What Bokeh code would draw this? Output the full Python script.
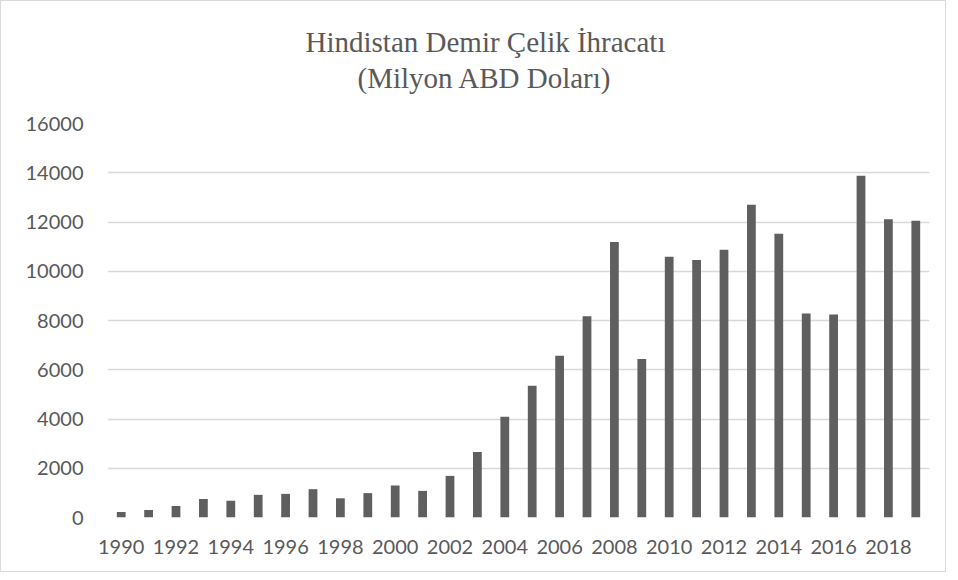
from bokeh.plotting import figure
from bokeh.models import Title, FixedTicker, Range1d
from bokeh.embed import file_html
from bokeh.resources import INLINE

years = list(range(1990, 2020))
exports = [220, 300, 470, 750, 680, 920, 960, 1150, 780, 990,
           1300, 1080, 1690, 2660, 4090, 5350, 6570, 8170, 11190, 6440,
           10590, 10460, 10870, 12700, 11520, 8280, 8240, 13880, 12110, 12050]
x_ticks = list(range(1990, 2019, 2))
y_ticks = list(range(0, 16001, 2000))

title_line1 = "Hindistan Demir Çelik İhracatı"
title_line2 = "(Milyon ABD Doları)"

TEXT = "#595959"
GRID = "#d9d9d9"
BAR = "#5f5f5f"

p = figure(width=946, height=572, output_backend="svg", toolbar_location=None,
           x_range=Range1d(1989.5, 2019.5), y_range=Range1d(0, 16000),
           min_border_left=106, min_border_right=18, min_border_top=122,
           min_border_bottom=56)
p.title = None
p.styles = {"border": "1px solid #d9d9d9", "box-sizing": "border-box"}

t2 = Title(text=title_line2, align="left", offset=250, text_font="Liberation Serif",
           text_font_size="29px", text_font_style="normal", text_color=TEXT,
           standoff=60)
t1 = Title(text=title_line1, align="left", offset=198, text_font="Liberation Serif",
           text_font_size="29px", text_font_style="normal", text_color=TEXT,
           standoff=-56)
p.add_layout(t2, "above")
p.add_layout(t1, "above")

p.vbar(x=years, top=exports, width=0.32, fill_color=BAR, line_color=None)

p.outline_line_color = None
p.xgrid.grid_line_color = None
p.ygrid.grid_line_color = GRID
p.ygrid.grid_line_width = 1.3
p.ygrid.ticker = FixedTicker(ticks=y_ticks)

p.xaxis.ticker = FixedTicker(ticks=x_ticks)
p.yaxis.ticker = FixedTicker(ticks=y_ticks)
for ax in (p.xaxis[0], p.yaxis[0]):
    ax.axis_line_color = None
    ax.major_tick_line_color = None
    ax.minor_tick_line_color = None
    ax.major_label_text_font = "Lato"
    ax.major_label_text_font_size = "20px"
    ax.major_label_text_color = TEXT
p.xaxis.major_label_standoff = 16
p.yaxis.major_label_standoff = 18

open("out.html", "w").write(file_html(p, INLINE))
